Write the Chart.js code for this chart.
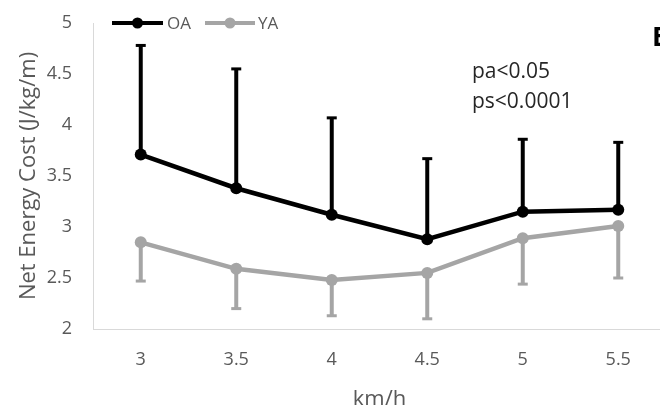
<!DOCTYPE html>
<html>
<head>
<meta charset="utf-8">
<script src="https://cdn.jsdelivr.net/npm/chart.js@4.4.0/dist/chart.umd.min.js"></script>
<style>
    html, body { margin: 0; padding: 0; overflow: hidden; background: #fff; }
    #wrap { width: 672px; height: 405px; position: relative; }
</style>
</head>
<body>
<div id="wrap"><canvas id="chart-energy"></canvas></div>
<script>
const speeds = ['3', '3.5', '4', '4.5', '5', '5.5'];
const oaMean = [3.71, 3.38, 3.12, 2.88, 3.15, 3.17];
const oaUpper = [4.78, 4.55, 4.07, 3.67, 3.86, 3.83];
const yaMean = [2.85, 2.59, 2.48, 2.55, 2.89, 3.01];
const yaLower = [2.47, 2.20, 2.13, 2.10, 2.44, 2.50];
const yTicks = [2, 2.5, 3, 3.5, 4, 4.5, 5];
const notes = ['pa<0.05', 'ps<0.0001'];
const panelLetter = 'B';

const COLORS = {
    oa: '#000000',
    ya: '#A5A5A5',
    axis: '#D9D9D9',
    text: '#595959'
};
const FONT = "'Open Sans', 'Noto Sans', sans-serif";

// one-sided error bars, drawn under the lines
const errorBars = {
    id: 'errorBars',
    beforeDatasetsDraw(chart) {
        const { ctx, scales: { x, y } } = chart;
        chart.data.datasets.forEach(ds => {
            if (!ds.errTo) return;
            ctx.save();
            ctx.strokeStyle = ds.borderColor;
            ctx.lineCap = 'butt';
            ds.data.forEach((v, i) => {
                const px = x.getPixelForValue(i);
                const y0 = y.getPixelForValue(v);
                const y1 = y.getPixelForValue(ds.errTo[i]);
                ctx.lineWidth = 4;
                ctx.beginPath();
                ctx.moveTo(px, y0);
                ctx.lineTo(px, y1);
                ctx.stroke();
                ctx.lineWidth = 3;
                ctx.beginPath();
                ctx.moveTo(px - 5, y1);
                ctx.lineTo(px + 5, y1);
                ctx.stroke();
            });
            ctx.restore();
        });
    }
};

// excel-like legend (line + marker) and text notes
const extras = {
    id: 'extras',
    afterDraw(chart) {
        const ctx = chart.ctx;
        const slots = [{ x0: 112, x1: 163, tx: 167 }, { x0: 205, x1: 255, tx: 258 }];
        const ly = 23;
        ctx.save();
        chart.data.datasets.forEach((ds, i) => {
            const s = slots[i];
            ctx.strokeStyle = ds.borderColor;
            ctx.lineWidth = 4;
            ctx.beginPath();
            ctx.moveTo(s.x0, ly);
            ctx.lineTo(s.x1, ly);
            ctx.stroke();
            ctx.fillStyle = ds.borderColor;
            ctx.beginPath();
            ctx.arc((s.x0 + s.x1) / 2, ly, 5.5, 0, Math.PI * 2);
            ctx.fill();
            ctx.fillStyle = COLORS.text;
            ctx.font = `17px ${FONT}`;
            ctx.textBaseline = 'middle';
            ctx.textAlign = 'left';
            ctx.fillText(ds.label, s.tx, ly + 1);
        });

        ctx.fillStyle = '#262626';
        ctx.font = `21px ${FONT}`;
        ctx.textBaseline = 'middle';
        notes.forEach((t, i) => ctx.fillText(t, 472, 72 + i * 30));

        ctx.fillStyle = '#000';
        ctx.font = `bold 27px ${FONT}`;
        ctx.fillText(panelLetter, 652, 38);
        ctx.restore();
    }
};

const chart = new Chart(document.getElementById('chart-energy'), {
    type: 'line',
    data: {
        labels: speeds,
        datasets: [
            {
                label: 'OA',
                data: oaMean,
                errTo: oaUpper,
                borderColor: COLORS.oa,
                backgroundColor: COLORS.oa,
                borderWidth: 4.5,
                pointRadius: 6,
                pointHoverRadius: 6,
                pointBorderWidth: 0,
                tension: 0
            },
            {
                label: 'YA',
                data: yaMean,
                errTo: yaLower,
                borderColor: COLORS.ya,
                backgroundColor: COLORS.ya,
                borderWidth: 4.5,
                pointRadius: 6,
                pointHoverRadius: 6,
                pointBorderWidth: 0,
                tension: 0
            }
        ]
    },
    options: {
        responsive: true,
        maintainAspectRatio: false,
        animation: false,
        layout: { padding: { top: 23, right: 4, left: 0, bottom: 0 } },
        plugins: {
            legend: { display: false },
            tooltip: { enabled: false }
        },
        scales: {
            x: {
                offset: true,
                grid: { display: false, drawTicks: false },
                border: { color: COLORS.axis, width: 1 },
                ticks: { color: COLORS.text, font: { family: FONT, size: 18 }, padding: 20 },
                title: { display: true, text: 'km/h', color: COLORS.text, font: { family: FONT, size: 22 }, padding: { top: 0, bottom: -8 } },
                afterFit(scale) { scale.height = 76; }
            },
            y: {
                min: 2,
                max: 5,
                afterBuildTicks(scale) { scale.ticks = yTicks.map(v => ({ value: v })); },
                grid: { display: false, drawTicks: false },
                border: { color: COLORS.axis, width: 1 },
                ticks: {
                    color: COLORS.text,
                    font: { family: FONT, size: 18 },
                    padding: 21,
                    callback: v => String(v)
                },
                title: { display: true, text: 'Net Energy Cost (J/kg/m)', color: COLORS.text, font: { family: FONT, size: 22 }, padding: { top: 16, bottom: 0 } },
                afterFit(scale) {
                    scale.width = 93;
                    scale.paddingTop = 0;
                    scale.paddingBottom = 0;
                }
            }
        }
    },
    plugins: [errorBars, extras]
});
</script>
</body>
</html>
